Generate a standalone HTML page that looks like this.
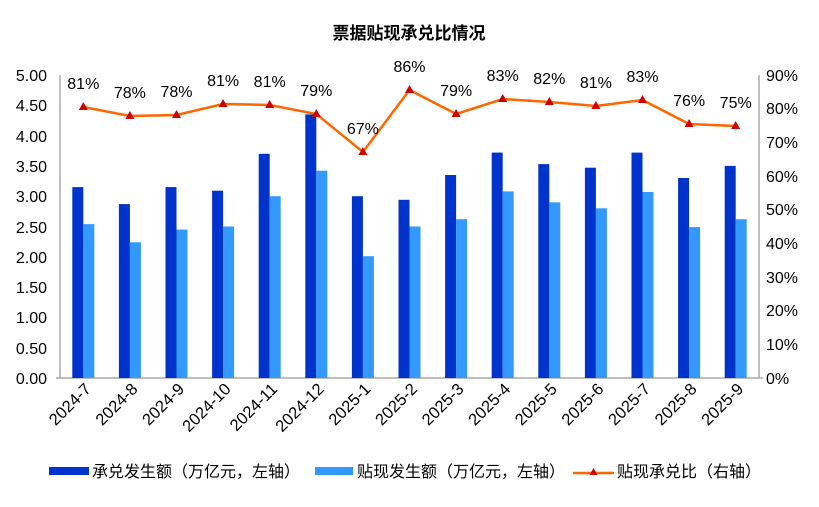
<!DOCTYPE html>
<html><head><meta charset="utf-8"><style>
body{margin:0;background:#fff}
svg text{font-family:"Liberation Sans","Noto Sans CJK SC",sans-serif;fill:#000}
</style></head><body>
<svg width="819" height="502" viewBox="0 0 819 502" xmlns="http://www.w3.org/2000/svg">
<text x="409" y="39" font-size="17" font-weight="bold" text-anchor="middle">票据贴现承兑比情况</text>
<g font-size="16" text-anchor="end">
<text x="47" y="81">5.00</text><text x="47" y="111">4.50</text><text x="47" y="142">4.00</text><text x="47" y="172">3.50</text><text x="47" y="202">3.00</text><text x="47" y="233">2.50</text><text x="47" y="263">2.00</text><text x="47" y="293">1.50</text><text x="47" y="323">1.00</text><text x="47" y="354">0.50</text><text x="47" y="384">0.00</text>
</g>
<g font-size="16">
<text x="766" y="81">90%</text><text x="766" y="114">80%</text><text x="766" y="148">70%</text><text x="766" y="182">60%</text><text x="766" y="215">50%</text><text x="766" y="249">40%</text><text x="766" y="283">30%</text><text x="766" y="316">20%</text><text x="766" y="350">10%</text><text x="766" y="384">0%</text>
</g>
<g stroke="#aaa" stroke-width="1.5">
<line x1="60" y1="75" x2="60" y2="378"/><line x1="56" y1="378" x2="763" y2="378"/><line x1="759" y1="75" x2="759" y2="378"/>
</g>
<g fill="#0033cc">
<rect x="72.3" y="187.1" width="11" height="190.9"/><rect x="118.9" y="204.1" width="11" height="173.9"/><rect x="165.5" y="187.1" width="11" height="190.9"/><rect x="212.1" y="190.7" width="11" height="187.3"/><rect x="258.7" y="153.8" width="11" height="224.2"/><rect x="305.3" y="114.4" width="11" height="263.6"/><rect x="351.9" y="196.2" width="11" height="181.8"/><rect x="398.5" y="199.8" width="11" height="178.2"/><rect x="445.1" y="175" width="11" height="203"/><rect x="491.7" y="152.6" width="11" height="225.4"/><rect x="538.3" y="164.1" width="11" height="213.9"/><rect x="584.9" y="167.7" width="11" height="210.3"/><rect x="631.5" y="152.6" width="11" height="225.4"/><rect x="678.1" y="178" width="11" height="200"/><rect x="724.7" y="165.9" width="11" height="212.1"/>
</g>
<g fill="#3399ff">
<rect x="83.3" y="224.1" width="11" height="153.9"/><rect x="129.9" y="242.3" width="11" height="135.7"/><rect x="176.5" y="229.5" width="11" height="148.5"/><rect x="223.1" y="226.5" width="11" height="151.5"/><rect x="269.7" y="196.2" width="11" height="181.8"/><rect x="316.3" y="170.7" width="11" height="207.3"/><rect x="362.9" y="256.2" width="11" height="121.8"/><rect x="409.5" y="226.5" width="11" height="151.5"/><rect x="456.1" y="219.2" width="11" height="158.8"/><rect x="502.7" y="191.4" width="11" height="186.6"/><rect x="549.3" y="202.3" width="11" height="175.7"/><rect x="595.9" y="208.3" width="11" height="169.7"/><rect x="642.5" y="192" width="11" height="186"/><rect x="689.1" y="227.1" width="11" height="150.9"/><rect x="735.7" y="219.2" width="11" height="158.8"/>
</g>
<polyline fill="none" stroke="#ff6600" stroke-width="2.5" points="83.3,107 129.9,116 176.5,115 223.1,104 269.7,105 316.3,114 362.9,152 409.5,90 456.1,114 502.7,99 549.3,102 595.9,106 642.5,100 689.1,124 735.7,126"/>
<g fill="#cc0000">
<path d="M83.3,102l4.5,8h-9z"/><path d="M129.9,111l4.5,8h-9z"/><path d="M176.5,110l4.5,8h-9z"/><path d="M223.1,99l4.5,8h-9z"/><path d="M269.7,100l4.5,8h-9z"/><path d="M316.3,109l4.5,8h-9z"/><path d="M362.9,147l4.5,8h-9z"/><path d="M409.5,85l4.5,8h-9z"/><path d="M456.1,109l4.5,8h-9z"/><path d="M502.7,94l4.5,8h-9z"/><path d="M549.3,97l4.5,8h-9z"/><path d="M595.9,101l4.5,8h-9z"/><path d="M642.5,95l4.5,8h-9z"/><path d="M689.1,119l4.5,8h-9z"/><path d="M735.7,121l4.5,8h-9z"/>
</g>
<g font-size="16" text-anchor="middle">
<text x="83.3" y="89">81%</text><text x="129.9" y="98">78%</text><text x="176.5" y="97">78%</text><text x="223.1" y="86">81%</text><text x="269.7" y="87">81%</text><text x="316.3" y="96">79%</text><text x="362.9" y="134">67%</text><text x="409.5" y="72">86%</text><text x="456.1" y="96">79%</text><text x="502.7" y="81">83%</text><text x="549.3" y="84">82%</text><text x="595.9" y="88">81%</text><text x="642.5" y="82">83%</text><text x="689.1" y="106">76%</text><text x="735.7" y="108">75%</text>
</g>
<g font-size="16.5" text-anchor="end">
<text transform="translate(92,390) rotate(-45)">2024-7</text><text transform="translate(138.6,390) rotate(-45)">2024-8</text><text transform="translate(185.2,390) rotate(-45)">2024-9</text><text transform="translate(231.8,390) rotate(-45)">2024-10</text><text transform="translate(278.4,390) rotate(-45)">2024-11</text><text transform="translate(325,390) rotate(-45)">2024-12</text><text transform="translate(371.6,390) rotate(-45)">2025-1</text><text transform="translate(418.2,390) rotate(-45)">2025-2</text><text transform="translate(464.8,390) rotate(-45)">2025-3</text><text transform="translate(511.4,390) rotate(-45)">2025-4</text><text transform="translate(558,390) rotate(-45)">2025-5</text><text transform="translate(604.6,390) rotate(-45)">2025-6</text><text transform="translate(651.2,390) rotate(-45)">2025-7</text><text transform="translate(697.8,390) rotate(-45)">2025-8</text><text transform="translate(744.4,390) rotate(-45)">2025-9</text>
</g>
<rect x="49" y="467" width="40" height="8" fill="#0033cc"/>
<text x="92" y="477" font-size="16">承兑发生额（万亿元，左轴）</text>
<rect x="315" y="467" width="38" height="8" fill="#3399ff"/>
<text x="357" y="477" font-size="16">贴现发生额（万亿元，左轴）</text>
<line x1="573" y1="473" x2="614" y2="473" stroke="#ff6600" stroke-width="2.5"/>
<path d="M593.5,468l4,7h-8z" fill="#cc0000"/>
<text x="617" y="477" font-size="16">贴现承兑比（右轴）</text>
</svg>
</body></html>
